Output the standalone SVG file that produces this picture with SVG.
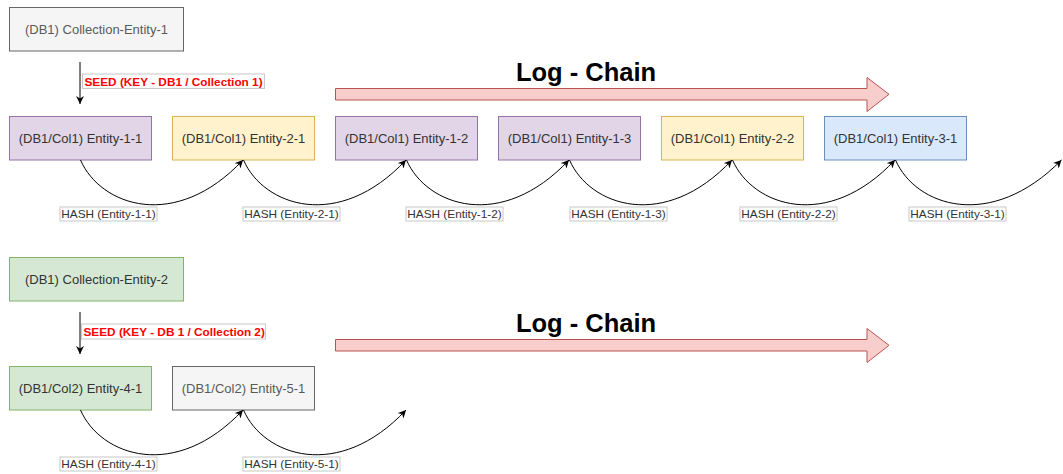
<svg xmlns="http://www.w3.org/2000/svg" width="1063" height="474" viewBox="0 0 1063 474">
  <style>
    .box { stroke-width: 1; }
    .gray { fill: #f5f5f5; stroke: #666666; }
    .purple { fill: #e1d5e7; stroke: #9673a6; }
    .yellow { fill: #fff2cc; stroke: #d6b656; }
    .blue { fill: #dae8fc; stroke: #6c8ebf; }
    .green { fill: #d5e8d4; stroke: #82b366; }
    .txt { font-family: "Liberation Sans", Arial, sans-serif; font-size: 13px; text-anchor: middle; fill: #333; }
    .txt.dim { fill: #5a5a5a; }
    .lbl-bg { fill: #ffffff; stroke: #c8c8c8; stroke-width: 1; }
    .hash { font-family: "Liberation Sans", Arial, sans-serif; font-size: 11.8px; text-anchor: middle; fill: #333; }
    .seed { font-family: "Liberation Sans", Arial, sans-serif; font-size: 11.8px; font-weight: bold; fill: #ff0000; }
    .title { font-family: "Liberation Sans", Arial, sans-serif; font-size: 25.5px; font-weight: bold; fill: #000; text-anchor: middle; }
    .flow { fill: #f8cecc; stroke: #b85450; stroke-width: 1; }
    .edge { fill: none; stroke: #000; stroke-width: 1; marker-end: url(#arrow); }
  </style>
  <defs>
    <marker id="arrow" viewBox="0 0 10 10" refX="10" refY="5" markerWidth="8" markerHeight="8" markerUnits="userSpaceOnUse" orient="auto">
      <path d="M0,0 L10,5 L0,10 L3,5 z" fill="#000"/>
    </marker>
    <polygon id="bigArrow" points="335.5,88.5 867,88.5 867,77.5 889,94.3 867,111.5 867,100 335.5,100"/>
  </defs>

  <rect width="1063" height="474" fill="#ffffff"/>

  <!-- Log chain banners -->
  <g id="logchain-1">
    <use href="#bigArrow" class="flow"/>
    <text class="title" x="586" y="81">Log - Chain</text>
  </g>
  <g id="logchain-2" transform="translate(0,251)">
    <use href="#bigArrow" class="flow"/>
    <text class="title" x="586" y="81">Log - Chain</text>
  </g>

  <!-- Collection 1 -->
  <g id="collection-entity-1">
    <rect class="box gray" x="9.5" y="7.5" width="174" height="43.5"/>
    <text class="txt dim" x="96.5" y="34">(DB1) Collection-Entity-1</text>
  </g>
  <g id="entity-1-1">
    <rect class="box purple" x="9.5" y="116.5" width="142" height="43.5"/>
    <text class="txt" x="80.5" y="143">(DB1/Col1) Entity-1-1</text>
  </g>
  <g id="entity-2-1">
    <rect class="box yellow" x="172.5" y="116.5" width="142" height="43.5"/>
    <text class="txt" x="243.5" y="143">(DB1/Col1) Entity-2-1</text>
  </g>
  <g id="entity-1-2">
    <rect class="box purple" x="335.5" y="116.5" width="142" height="43.5"/>
    <text class="txt" x="406.5" y="143">(DB1/Col1) Entity-1-2</text>
  </g>
  <g id="entity-1-3">
    <rect class="box purple" x="498.5" y="116.5" width="142" height="43.5"/>
    <text class="txt" x="569.5" y="143">(DB1/Col1) Entity-1-3</text>
  </g>
  <g id="entity-2-2">
    <rect class="box yellow" x="661.5" y="116.5" width="142" height="43.5"/>
    <text class="txt" x="732.5" y="143">(DB1/Col1) Entity-2-2</text>
  </g>
  <g id="entity-3-1">
    <rect class="box blue" x="824.5" y="116.5" width="142" height="43.5"/>
    <text class="txt" x="895.5" y="143">(DB1/Col1) Entity-3-1</text>
  </g>

  <!-- Collection 2 -->
  <g id="collection-entity-2">
    <rect class="box green" x="9.5" y="257.5" width="174" height="43.5"/>
    <text class="txt" x="96.5" y="284">(DB1) Collection-Entity-2</text>
  </g>
  <g id="entity-4-1">
    <rect class="box green" x="9.5" y="366.5" width="142" height="43.5"/>
    <text class="txt" x="80.5" y="393">(DB1/Col2) Entity-4-1</text>
  </g>
  <g id="entity-5-1">
    <rect class="box gray" x="172.5" y="366.5" width="142" height="43.5"/>
    <text class="txt dim" x="243.5" y="393">(DB1/Col2) Entity-5-1</text>
  </g>

  <!-- Connectors -->
  <g id="connectors">
    <!-- seed edges -->
    <line class="edge" x1="80" y1="62" x2="80" y2="104"/>
    <rect class="lbl-bg" x="82.5" y="74" width="182" height="14.5"/>
    <text class="seed" x="84.5" y="85.5">SEED (KEY - DB1 / Collection 1)</text>

    <line class="edge" x1="80" y1="312" x2="80" y2="354"/>
    <rect class="lbl-bg" x="81.5" y="324" width="184" height="15"/>
    <text class="seed" x="83.5" y="335.8">SEED (KEY - DB 1 / Collection 2)</text>

    <!-- hash chain, collection 1 -->
    <path class="edge" d="M80.5,160 c20,46 95,72 162.5,0"/>
    <path class="edge" d="M243.5,160 c20,46 95,72 162.5,0"/>
    <path class="edge" d="M406.5,160 c20,46 95,72 162.5,0"/>
    <path class="edge" d="M569.5,160 c20,46 95,72 162.5,0"/>
    <path class="edge" d="M732.5,160 c20,46 95,72 162.5,0"/>
    <path class="edge" d="M895.5,160 c20,46 95,72 166,0"/>

    <rect class="lbl-bg" x="60" y="207" width="97" height="14"/>
    <text class="hash" x="108.5" y="218.3">HASH (Entity-1-1)</text>
    <rect class="lbl-bg" x="243" y="207" width="97" height="14"/>
    <text class="hash" x="291.5" y="218.3">HASH (Entity-2-1)</text>
    <rect class="lbl-bg" x="406" y="207" width="97" height="14"/>
    <text class="hash" x="454.5" y="218.3">HASH (Entity-1-2)</text>
    <rect class="lbl-bg" x="570" y="207" width="97" height="14"/>
    <text class="hash" x="618.5" y="218.3">HASH (Entity-1-3)</text>
    <rect class="lbl-bg" x="740" y="207" width="97" height="14"/>
    <text class="hash" x="788.5" y="218.3">HASH (Entity-2-2)</text>
    <rect class="lbl-bg" x="909" y="207" width="97" height="14"/>
    <text class="hash" x="957.5" y="218.3">HASH (Entity-3-1)</text>

    <!-- hash chain, collection 2 -->
    <path class="edge" d="M80.5,410 c20,46 95,72 162.5,0"/>
    <path class="edge" d="M243.5,410 c20,46 95,72 162.5,0"/>

    <rect class="lbl-bg" x="60" y="457" width="97" height="14"/>
    <text class="hash" x="108.5" y="468.3">HASH (Entity-4-1)</text>
    <rect class="lbl-bg" x="243" y="457" width="97" height="14"/>
    <text class="hash" x="291.5" y="468.3">HASH (Entity-5-1)</text>
  </g>
</svg>
